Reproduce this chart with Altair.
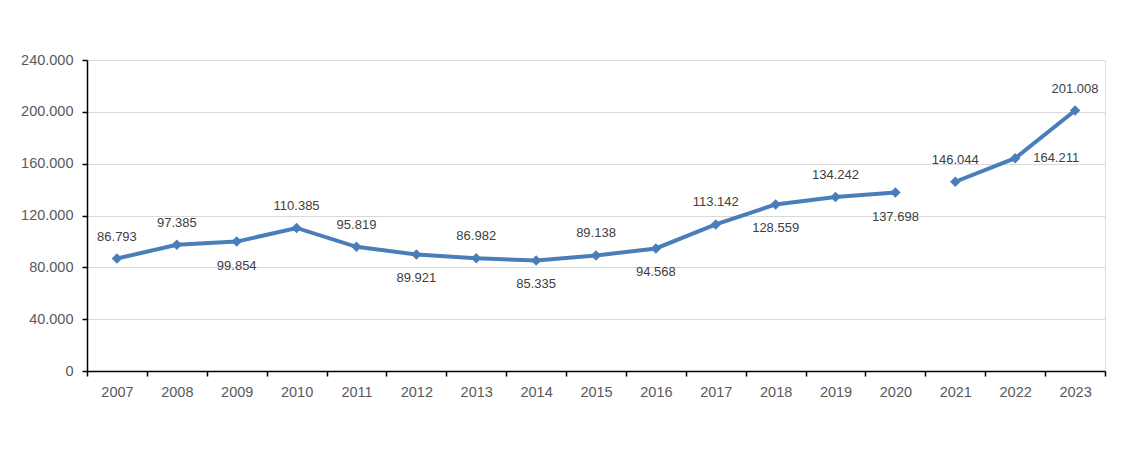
import altair as alt
import pandas as pd

years = ["2007", "2008", "2009", "2010", "2011", "2012", "2013", "2014", "2015",
         "2016", "2017", "2018", "2019", "2020", "2021", "2022", "2023"]
values = [86793, 97385, 99854, 110385, 95819, 89921, 86982, 85335, 89138,
          94568, 113142, 128559, 134242, 137698, 146044, 164211, 201008]
segments = ["a"] * 14 + ["b"] * 3
label_pos = ["above", "above", "below", "above", "above", "below", "above", "below",
             "above", "below", "above", "below", "above", "below", "above", "right", "above"]

df = pd.DataFrame({
    "year": years,
    "value": values,
    "seg": segments,
    "pos": label_pos,
    "label": [f"{v:,}".replace(",", ".") for v in values],
})

W, H = 1018, 311
BLUE = "#4a7ebb"
FONT = "Liberation Sans"

x_enc = alt.X("year:N", sort=years, title=None,
              scale=alt.Scale(paddingInner=0, paddingOuter=0),
              axis=alt.Axis(tickBand="extent", labelAngle=0,
                            grid=False, domainColor="black", domainWidth=1.5,
                            tickColor="black", tickWidth=1.5, tickSize=5,
                            labelPadding=9, labelColor="#595959", labelFont=FONT,
                            labelFontSize=14.5))
y_enc = alt.Y("value:Q", title=None,
              scale=alt.Scale(domain=[0, 240000], nice=False),
              axis=alt.Axis(values=[0, 40000, 80000, 120000, 160000, 200000, 240000],
                            labelExpr="replace(format(datum.value, ','), /,/g, '.')",
                            gridColor="#d9d9d9", gridWidth=1.2,
                            domainColor="black", domainWidth=1.5,
                            tickColor="black", tickWidth=1.5, tickSize=5,
                            labelPadding=9, labelColor="#595959", labelFont=FONT,
                            labelFontSize=14.5))

base = alt.Chart(df).encode(x=x_enc, y=y_enc)

line = base.mark_line(color=BLUE, strokeWidth=4).encode(detail="seg:N")
pts = base.mark_point(shape="diamond", filled=True, size=110, color=BLUE, opacity=1)

txt_style = dict(font=FONT, fontSize=13, color="#404040")
above = base.mark_text(dy=-22, **txt_style).encode(text="label:N").transform_filter(
    alt.datum.pos == "above")
below = base.mark_text(dy=24, **txt_style).encode(text="label:N").transform_filter(
    alt.datum.pos == "below")
right = base.mark_text(dx=18, align="left", **txt_style).encode(text="label:N").transform_filter(
    alt.datum.pos == "right")

chart = alt.layer(line, pts, above, below, right).properties(
    width=W, height=H,
    autosize=alt.AutoSizeParams(type="none"),
    padding={"left": 79, "top": 52, "right": 17, "bottom": 78},
).configure_view(stroke=None).configure(background="white")

chart.save("out.html", embed_options={"renderer": "svg", "actions": False})
